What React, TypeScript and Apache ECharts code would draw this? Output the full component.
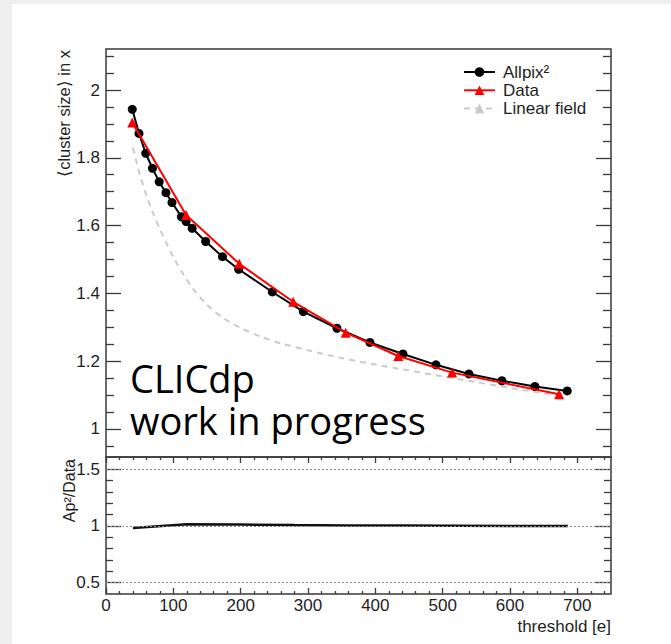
import React, { useEffect, useRef } from "react";
import * as echarts from "echarts";

// Mean cluster size in x versus threshold (electrons)
const allpixThreshold = [39, 49, 59, 69, 79, 89, 98, 112, 119, 128, 148, 173, 197, 247, 293, 343, 392, 441, 490, 539, 588, 637, 685];
const allpixClusterSize = [1.943, 1.872, 1.813, 1.769, 1.729, 1.697, 1.668, 1.626, 1.612, 1.592, 1.553, 1.508, 1.471, 1.404, 1.346, 1.297, 1.255, 1.221, 1.189, 1.162, 1.142, 1.125, 1.112];

const dataThreshold = [39, 119, 198, 278, 356, 434, 514, 673];
const dataClusterSize = [1.904, 1.631, 1.487, 1.375, 1.284, 1.215, 1.166, 1.102];

const linearThreshold = [40, 50, 60, 70, 80, 90, 100, 115, 130, 150, 175, 200, 230, 260, 300, 350, 400, 450, 500, 550, 600, 650, 675];
const linearClusterSize = [1.83, 1.752, 1.69, 1.636, 1.59, 1.547, 1.507, 1.456, 1.412, 1.366, 1.326, 1.298, 1.272, 1.252, 1.232, 1.209, 1.19, 1.172, 1.155, 1.138, 1.121, 1.105, 1.097];

// Ratio panel
const ratioThreshold = [40, 120, 200, 280, 360, 440, 520, 600, 686];
const ratioValue = [0.982, 1.016, 1.012, 1.008, 1.005, 1.003, 1.001, 0.999, 0.999];
const ratioGuides = [0.5, 1, 1.5];

// Axis ranges and tick values
const X_MIN = 0;
const X_MAX = 750;
const xMajorTicks = [0, 100, 200, 300, 400, 500, 600, 700];
const xMinorTicks = [20, 40, 60, 80, 120, 140, 160, 180, 220, 240, 260, 280, 320, 340, 360, 380, 420, 440, 460, 480, 520, 540, 560, 580, 620, 640, 660, 680, 720, 740];

const UPPER_MIN = 0.917;
const UPPER_MAX = 2.121;
const upperMajorTicks = [1, 1.2, 1.4, 1.6, 1.8, 2];
const upperMinorTicks = [0.95, 1.05, 1.1, 1.15, 1.25, 1.3, 1.35, 1.45, 1.5, 1.55, 1.65, 1.7, 1.75, 1.85, 1.9, 1.95, 2.05, 2.1];

const LOWER_MIN = 0.4;
const LOWER_MAX = 1.608;
const lowerMajorTicks = [0.5, 1, 1.5];
const lowerMinorTicks = [0.6, 0.7, 0.8, 0.9, 1.1, 1.2, 1.3, 1.4];

const pairs = (xs: number[], ys: number[]) => xs.map((x, i) => [x, ys[i]]);

const FONT = "Liberation Sans, Arial, Helvetica, sans-serif";
const FRAME = "#3a3a3a";
const TEXT = "#1e1e1e";

function tickAxis(
  kind: "x" | "y",
  gridIndex: number,
  position: string,
  min: number,
  max: number,
  ticks: number[],
  length: number,
  labels: boolean,
  extra: Record<string, unknown> = {}
) {
  return {
    type: "value",
    gridIndex,
    position,
    min,
    max,
    axisLine: { show: false, onZero: false },
    axisTick: {
      show: true,
      inside: true,
      length,
      customValues: ticks,
      lineStyle: { color: FRAME, width: 1.3 },
    },
    axisLabel: labels
      ? {
          show: true,
          customValues: ticks,
          margin: kind === "x" ? 3 : 6,
          fontSize: 17,
          fontFamily: FONT,
          color: TEXT,
        }
      : { show: false },
    splitLine: { show: false },
    minorTick: { show: false },
    ...extra,
  };
}

export default function App() {
  const ref = useRef<HTMLDivElement>(null);

  useEffect(() => {
    if (!ref.current) return;
    const chart = echarts.init(ref.current, undefined, { renderer: "svg" });

    const option = {
      animation: false,
      grid: [
        { left: 106, right: 60, top: 49, height: 408, show: true, borderColor: FRAME, borderWidth: 1.5, backgroundColor: "transparent" },
        { left: 106, right: 60, top: 457, height: 137, show: true, borderColor: FRAME, borderWidth: 1.5, backgroundColor: "transparent" },
      ],
      xAxis: [
        {
          type: "value",
          gridIndex: 0,
          min: X_MIN,
          max: X_MAX,
          axisLine: { show: false, onZero: false },
          axisTick: { show: false },
          axisLabel: { show: false },
          splitLine: { show: false },
        },
        tickAxis("x", 1, "bottom", X_MIN, X_MAX, xMajorTicks, 6, true, {
          name: "threshold [e]",
          nameLocation: "end",
          nameGap: 0,
          nameTextStyle: {
            align: "right",
            verticalAlign: "top",
            padding: [24, 0, 0, 0],
            fontSize: 17,
            fontFamily: FONT,
            color: TEXT,
          },
        }),
        tickAxis("x", 1, "bottom", X_MIN, X_MAX, xMinorTicks, 3, false),
        tickAxis("x", 1, "top", X_MIN, X_MAX, xMajorTicks, 6, false),
        tickAxis("x", 1, "top", X_MIN, X_MAX, xMinorTicks, 3, false),
      ],
      yAxis: [
        tickAxis("y", 0, "left", UPPER_MIN, UPPER_MAX, upperMajorTicks, 15, true),
        tickAxis("y", 0, "left", UPPER_MIN, UPPER_MAX, upperMinorTicks, 8, false),
        tickAxis("y", 0, "right", UPPER_MIN, UPPER_MAX, upperMajorTicks, 15, false),
        tickAxis("y", 0, "right", UPPER_MIN, UPPER_MAX, upperMinorTicks, 8, false),
        tickAxis("y", 1, "left", LOWER_MIN, LOWER_MAX, lowerMajorTicks, 15, true),
        tickAxis("y", 1, "left", LOWER_MIN, LOWER_MAX, lowerMinorTicks, 7, false),
        tickAxis("y", 1, "right", LOWER_MIN, LOWER_MAX, lowerMajorTicks, 15, false),
        tickAxis("y", 1, "right", LOWER_MIN, LOWER_MAX, lowerMinorTicks, 7, false),
      ],
      legend: {
        data: ["Allpix²", "Data", "Linear field"],
        orient: "vertical",
        left: 463,
        top: 63,
        padding: 0,
        itemWidth: 31,
        itemHeight: 12,
        itemGap: 0.3,
        selectedMode: false,
        textStyle: {
          fontSize: 17,
          lineHeight: 18,
          fontFamily: FONT,
          color: TEXT,
          padding: [0, 0, 0, 3],
        },
      },
      series: [
        {
          name: "Linear field",
          type: "line",
          xAxisIndex: 0,
          yAxisIndex: 0,
          data: pairs(linearThreshold, linearClusterSize),
          symbol: "triangle",
          showSymbol: false,
          smooth: 0.3,
          itemStyle: { color: "#c9c9c9" },
          lineStyle: { color: "#cbcbcb", width: 2, type: [6, 5] },
          z: 2,
        },
        {
          name: "Allpix²",
          type: "line",
          xAxisIndex: 0,
          yAxisIndex: 0,
          data: pairs(allpixThreshold, allpixClusterSize),
          symbol: "circle",
          symbolSize: 9,
          itemStyle: { color: "#000000" },
          lineStyle: { color: "#000000", width: 2 },
          z: 3,
        },
        {
          name: "Data",
          type: "line",
          xAxisIndex: 0,
          yAxisIndex: 0,
          data: pairs(dataThreshold, dataClusterSize),
          symbol: "triangle",
          symbolSize: 10,
          itemStyle: { color: "#ff0000" },
          lineStyle: { color: "#ff0000", width: 2 },
          z: 4,
        },
        {
          name: "guides",
          type: "line",
          xAxisIndex: 1,
          yAxisIndex: 4,
          data: [],
          z: 1,
          markLine: {
            silent: true,
            symbol: ["none", "none"],
            label: { show: false },
            lineStyle: { type: [2, 2], color: "#8a8a8a", width: 1 },
            data: ratioGuides.map((v) => ({ yAxis: v })),
          },
        },
        {
          name: "ratio",
          type: "line",
          xAxisIndex: 1,
          yAxisIndex: 4,
          data: pairs(ratioThreshold, ratioValue),
          symbol: "none",
          lineStyle: { color: "#111111", width: 2.5 },
          z: 3,
        },
      ],
      graphic: [
        {
          type: "text",
          x: 64,
          y: 50,
          rotation: Math.PI / 2,
          style: {
            text: "⟨cluster size⟩ in x",
            fontSize: 16.5,
            fontFamily: FONT,
            fill: TEXT,
            align: "right",
            verticalAlign: "middle",
          },
        },
        {
          type: "text",
          x: 69,
          y: 459,
          rotation: Math.PI / 2,
          style: {
            text: "Ap²/Data",
            fontSize: 16,
            fontFamily: FONT,
            fill: TEXT,
            align: "right",
            verticalAlign: "middle",
          },
        },
        {
          type: "text",
          x: 130,
          y: 357,
          style: {
            text: "CLICdp\nwork in progress",
            fontSize: 38,
            lineHeight: 42,
            fontFamily: "Open Sans, Noto Sans, sans-serif",
            fill: "#000000",
            align: "left",
            verticalAlign: "top",
          },
        },
      ],
    };

    chart.setOption(option as any);
    return () => chart.dispose();
  }, []);

  return (
    <div style={{ position: "fixed", left: 0, top: 0, width: 671, height: 644, background: "#eeeeee" }}>
      <div style={{ position: "absolute", left: 12, top: 4, width: 659, height: 640, background: "#ffffff" }} />
      <div ref={ref} style={{ position: "absolute", left: 0, top: 0, width: 671, height: 644 }} />
    </div>
  );
}
